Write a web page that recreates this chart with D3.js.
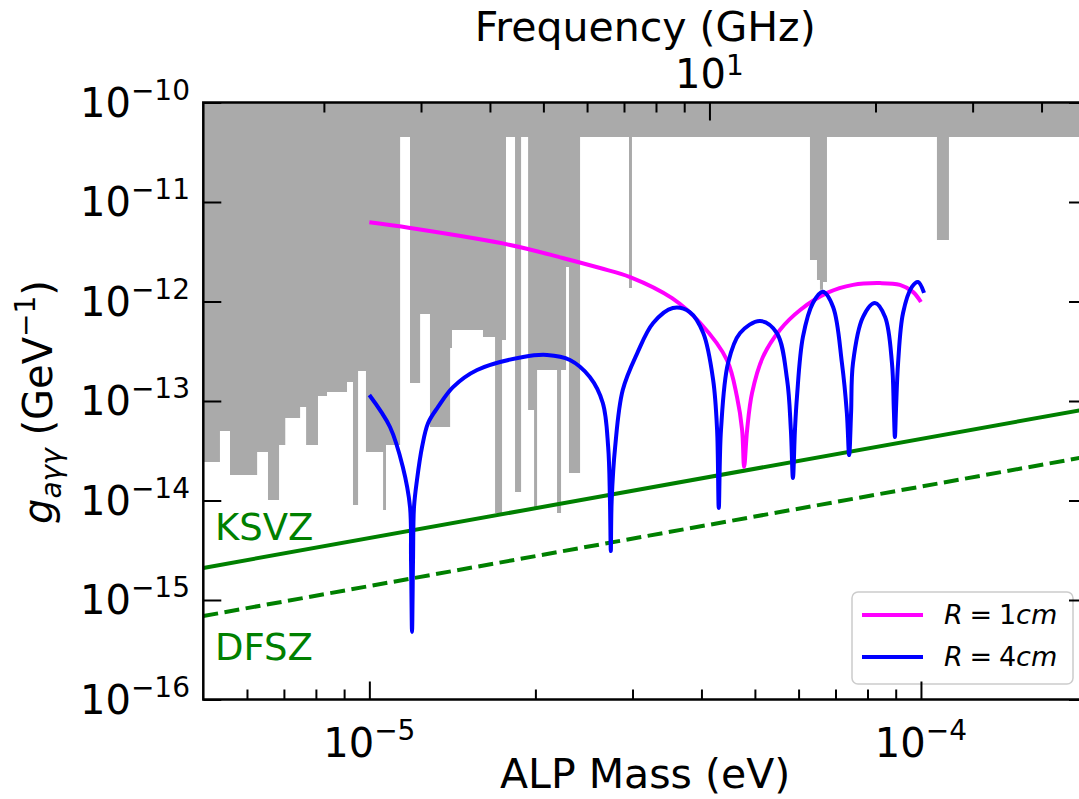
<!DOCTYPE html>
<html>
<head>
<meta charset="utf-8">
<script src="https://cdn.jsdelivr.net/npm/d3@7"></script>
<style>
  body { margin: 0; background: #fff; }
  text { font-family: "DejaVu Sans", sans-serif; }
</style>
</head>
<body>
<svg id="chart" width="1079" height="799"></svg>
<script>
// axis ranges and ticks
var massRange = [5e-6, 2e-4];
var couplingRange = [1e-16, 1e-10];
var massMajorTicks = [1e-5, 1e-4];
var massMinorTicks = [6e-6, 7e-6, 8e-6, 9e-6, 2e-5, 3e-5, 4e-5, 5e-5, 6e-5, 7e-5, 8e-5, 9e-5];
var couplingTicks = [1e-10, 1e-11, 1e-12, 1e-13, 1e-14, 1e-15, 1e-16];
var freqMajorTicks = [10];
var freqMinorTicks = [2, 3, 4, 5, 6, 7, 8, 9, 20, 30, 40];
var eVperGHz = 4.1357e-6;

// QCD axion bands
var bandMass = [5e-6, 2e-4];
var ksvzCoupling = [2.1e-15, 8.3e-14];
var dfszCoupling = [6.9e-16, 2.76e-14];

// R = 1cm sensitivity
var r1Mass = [1.0e-5, 1.185e-5, 1.80e-5, 2.24e-5, 2.62e-5, 2.97e-5, 3.538e-5, 3.98e-5, 4.45e-5, 4.64e-5, 4.74e-5, 4.78e-5,
  4.84e-5, 4.94e-5, 5.17e-5, 5.55e-5, 6.04e-5, 6.76e-5, 7.53e-5, 8.43e-5, 9.16e-5, 9.67e-5, 1.0e-4];
var r1Coupling = [6.25e-12, 5.48e-12, 3.70e-12, 2.74e-12, 2.17e-12, 1.76e-12, 1.08e-12, 6.08e-13, 2.58e-13, 1.10e-13, 5.12e-14, 2.17e-14,
  5.12e-14, 1.20e-13, 2.77e-13, 5.18e-13, 8.22e-13, 1.22e-12, 1.47e-12, 1.53e-12, 1.47e-12, 1.25e-12, 9.89e-13];

// R = 4cm sensitivity
var r4Mass = [1.0e-5, 1.09e-5, 1.15e-5, 1.185e-5, 1.190e-5, 1.195e-5, 1.200e-5, 1.205e-5, 1.22e-5, 1.246e-5, 1.278e-5, 1.332e-5,
  1.418e-5, 1.568e-5, 1.90e-5, 2.10e-5, 2.31e-5, 2.51e-5, 2.65e-5, 2.71e-5, 2.73e-5, 2.74e-5, 2.75e-5, 2.79e-5, 2.88e-5,
  3.06e-5, 3.27e-5, 3.55e-5, 3.81e-5, 4.03e-5, 4.20e-5, 4.27e-5, 4.30e-5, 4.34e-5, 4.47e-5, 4.70e-5, 5.11e-5,
  5.48e-5, 5.72e-5, 5.81e-5, 5.86e-5, 5.91e-5, 5.96e-5, 6.11e-5, 6.37e-5, 6.64e-5, 6.93e-5, 7.19e-5, 7.34e-5,
  7.41e-5, 7.47e-5, 7.53e-5, 7.85e-5, 8.25e-5, 8.61e-5, 8.86e-5, 8.93e-5, 8.97e-5, 9.01e-5, 9.09e-5, 9.28e-5,
  9.63e-5, 9.88e-5, 1.013e-4];
var r4Coupling = [1.15e-13, 5.48e-14, 2.17e-14, 8.61e-15, 2.52e-15, 4.77e-16, 2.52e-15, 8.61e-15, 1.61e-14, 3.45e-14, 6.01e-14, 8.71e-14,
  1.38e-13, 2.05e-13, 2.77e-13, 2.90e-13, 2.58e-13, 1.74e-13, 9.55e-14, 3.45e-14, 1.01e-14, 3.10e-15, 1.01e-14, 3.45e-14, 1.29e-13,
  3.03e-13, 6.08e-13, 8.61e-13, 7.83e-13, 4.82e-13, 1.63e-13, 5.12e-14, 8.41e-15, 5.12e-14, 2.41e-13, 4.82e-13, 6.37e-13,
  4.82e-13, 1.63e-13, 5.12e-14, 1.68e-14, 5.12e-14, 1.10e-13, 4.40e-13, 9.66e-13, 1.25e-12, 8.81e-13, 2.41e-13, 7.57e-14,
  2.86e-14, 7.57e-14, 2.41e-13, 6.98e-13, 9.66e-13, 6.98e-13, 2.41e-13, 8.13e-14, 4.35e-14, 8.13e-14, 2.41e-13, 7.66e-13,
  1.40e-12, 1.57e-12, 1.22e-12];

// existing limits (lower edge of the excluded region, step after each mass)
var limitMass = [5.0e-6, 5.36e-6, 5.59e-6, 6.26e-6, 6.55e-6, 6.86e-6, 7.04e-6, 7.49e-6, 7.68e-6, 8.07e-6, 8.38e-6, 9.11e-6,
  9.34e-6, 9.54e-6, 9.86e-6, 1.059e-5, 1.072e-5, 1.137e-5, 1.185e-5, 1.236e-5, 1.288e-5, 1.401e-5, 1.412e-5, 1.607e-5,
  1.690e-5, 1.740e-5, 1.769e-5, 1.837e-5, 1.884e-5, 1.940e-5, 1.989e-5, 2.014e-5, 2.189e-5, 2.226e-5, 2.273e-5, 2.301e-5,
  2.410e-5, 2.956e-5, 2.993e-5, 6.292e-5, 6.479e-5, 6.560e-5, 6.644e-5, 6.755e-5, 1.069e-4, 1.124e-4, 2.0e-4];
var limitCoupling = [2.44e-14, 4.99e-14, 1.80e-14, 3.07e-14, 1.01e-14, 3.61e-14, 6.75e-14, 8.71e-14, 3.61e-14, 1.12e-13, 1.23e-13, 1.55e-13,
  9.02e-15, 2.00e-13, 3.07e-14, 8.04e-15, 3.61e-14, 4.50e-11, 1.52e-13, 7.48e-13, 5.48e-14, 3.41e-13, 5.18e-13, 4.40e-13,
  7.48e-15, 4.10e-13, 4.50e-11, 1.22e-14, 4.50e-11, 8.13e-14, 8.61e-15, 2.05e-13, 7.48e-15, 2.05e-13, 2.22e-12, 1.89e-14,
  4.50e-11, 1.37e-12, 4.50e-11, 2.61e-12, 1.64e-12, 1.31e-12, 1.57e-12, 4.50e-11, 4.15e-12, 4.50e-11, 4.50e-11];

var legendLabels = ["1", "4"];
var legendColors = ["#ff00ff", "#0000ff"];

var svg = d3.select("#chart");
var plotLeft = 203.3, plotRight = 1087, plotTop = 102.5, plotBottom = 699.5;

var x = d3.scaleLog().domain(massRange).range([plotLeft, plotRight]);
var y = d3.scaleLog().domain(couplingRange).range([plotBottom, plotTop]);
var xf = d3.scaleLog().domain([massRange[0] / eVperGHz, massRange[1] / eVperGHz]).range([plotLeft, plotRight]);

function zip(a, b) {
  return a.map(function (d, i) { return [d, b[i]]; });
}

svg.append("defs").append("clipPath").attr("id", "plotclip")
  .append("rect").attr("x", plotLeft).attr("y", plotTop)
  .attr("width", plotRight - plotLeft).attr("height", plotBottom - plotTop);

var plot = svg.append("g").attr("clip-path", "url(#plotclip)");

// grey excluded region
plot.append("path")
  .datum(zip(limitMass, limitCoupling))
  .attr("fill", "#aaaaaa")
  .attr("d", d3.area()
    .x(function (d) { return x(d[0]); })
    .y0(y(1e-10))
    .y1(function (d) { return y(d[1]); })
    .curve(d3.curveStepAfter));

var line = d3.line()
  .x(function (d) { return x(d[0]); })
  .y(function (d) { return y(d[1]); });

plot.append("path").datum(zip(bandMass, ksvzCoupling))
  .attr("fill", "none").attr("stroke", "#008000").attr("stroke-width", 4)
  .attr("d", line);
plot.append("path").datum(zip(bandMass, dfszCoupling))
  .attr("fill", "none").attr("stroke", "#008000").attr("stroke-width", 4)
  .attr("stroke-dasharray", "15,6.5")
  .attr("d", line);

var smooth = d3.line()
  .x(function (d) { return x(d[0]); })
  .y(function (d) { return y(d[1]); })
  .curve(d3.curveCatmullRom.alpha(0.5));

plot.append("path").datum(zip(r1Mass, r1Coupling))
  .attr("fill", "none").attr("stroke", legendColors[0]).attr("stroke-width", 4)
  .attr("d", smooth);
plot.append("path").datum(zip(r4Mass, r4Coupling))
  .attr("fill", "none").attr("stroke", legendColors[1]).attr("stroke-width", 4)
  .attr("stroke-linejoin", "round")
  .attr("d", smooth);

svg.append("text").attr("x", 215).attr("y", 540).attr("fill", "#008000")
  .attr("font-size", 37).text("KSVZ");
svg.append("text").attr("x", 215).attr("y", 660).attr("fill", "#008000")
  .attr("font-size", 37).text("DFSZ");

// legend
var lg = svg.append("g");
lg.append("rect").attr("x", 852).attr("y", 592).attr("width", 221).attr("height", 92)
  .attr("rx", 6).attr("fill", "#fff").attr("fill-opacity", 0.8)
  .attr("stroke", "#cccccc").attr("stroke-width", 1.5);
legendLabels.forEach(function (lab, i) {
  var ly = 615 + i * 42;
  lg.append("line").attr("x1", 862).attr("x2", 923).attr("y1", ly).attr("y2", ly)
    .attr("stroke", legendColors[i]).attr("stroke-width", 4);
  var t = lg.append("text").attr("x", 944).attr("y", ly + 9).attr("font-size", 27);
  t.append("tspan").attr("font-style", "italic").text("R");
  t.append("tspan").text("\u2005=\u2005" + lab);
  t.append("tspan").attr("font-style", "italic").text("cm");
});

// axes: ticks pointing inward
function ticks(gen, vals, size) {
  var g = svg.append("g").call(gen.tickValues(vals).tickSize(size).tickFormat(""));
  g.select(".domain").remove();
  g.selectAll("line").attr("stroke", "#000").attr("stroke-width", 2);
  return g;
}
ticks(d3.axisBottom(x), massMajorTicks, -18).attr("transform", "translate(0," + plotBottom + ")");
ticks(d3.axisBottom(x), massMinorTicks, -10).attr("transform", "translate(0," + plotBottom + ")");
ticks(d3.axisTop(xf), freqMajorTicks, -18).attr("transform", "translate(0," + plotTop + ")");
ticks(d3.axisTop(xf), freqMinorTicks, -10).attr("transform", "translate(0," + plotTop + ")");
ticks(d3.axisLeft(y), couplingTicks, -18).attr("transform", "translate(" + plotLeft + ",0)");
ticks(d3.axisRight(y), couplingTicks, -18).attr("transform", "translate(" + plotRight + ",0)");

svg.append("rect").attr("x", plotLeft).attr("y", plotTop)
  .attr("width", plotRight - plotLeft).attr("height", plotBottom - plotTop)
  .attr("fill", "none").attr("stroke", "#000").attr("stroke-width", 2.5);

function powerLabel(px, py, exp, anchor, lift) {
  var t = svg.append("text").attr("x", px).attr("y", py)
    .attr("font-size", 40).attr("text-anchor", anchor);
  t.append("tspan").text("10");
  t.append("tspan").attr("font-size", 28).attr("dy", -lift).text(exp);
  return t;
}

couplingTicks.forEach(function (v) {
  var e = Math.round(Math.log10(v));
  powerLabel(190, y(v) + 14, "\u2212" + (-e), "end", 17);
});
massMajorTicks.forEach(function (v) {
  var e = Math.round(Math.log10(v));
  powerLabel(x(v), 757, "\u2212" + (-e), "middle", 17);
});
freqMajorTicks.forEach(function (v) {
  powerLabel(xf(v), 88, "1", "middle", 13);
});

svg.append("text").attr("x", (plotLeft + plotRight) / 2).attr("y", 788)
  .attr("font-size", 41).attr("text-anchor", "middle").text("ALP Mass (eV)");
svg.append("text").attr("x", (plotLeft + plotRight) / 2).attr("y", 41)
  .attr("font-size", 41).attr("text-anchor", "middle").text("Frequency (GHz)");

var yl = svg.append("text").attr("transform", "translate(52,402) rotate(-90)")
  .attr("font-size", 40).attr("text-anchor", "middle");
yl.append("tspan").attr("font-style", "italic").text("g");
yl.append("tspan").attr("font-style", "italic").attr("font-size", 28).attr("dy", 9).text("a\u03b3\u03b3");
yl.append("tspan").attr("dy", -9).text(" (GeV");
yl.append("tspan").attr("font-size", 28).attr("dy", -17).text("\u22121");
yl.append("tspan").attr("dy", 17).text(")");
</script>
</body>
</html>
